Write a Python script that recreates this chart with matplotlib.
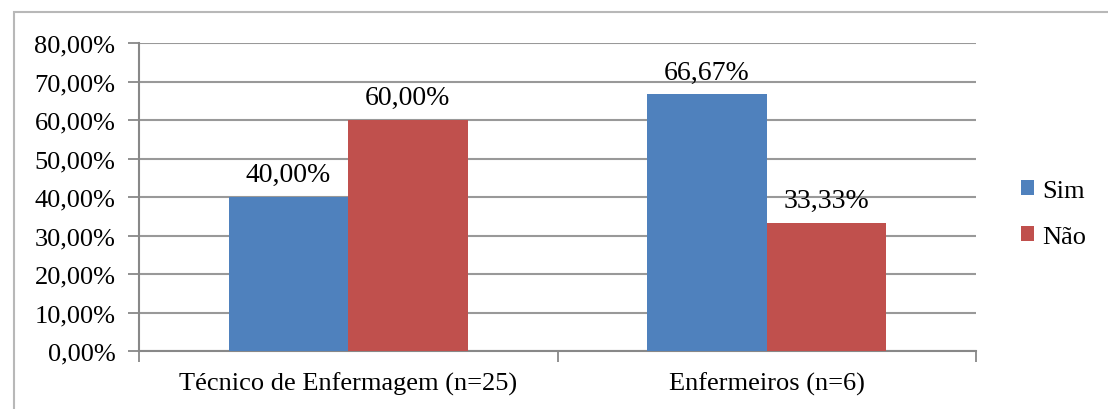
import matplotlib.pyplot as plt
from matplotlib.patches import Rectangle

categories = ["Técnico de Enfermagem (n=25)", "Enfermeiros (n=6)"]
sim = [40.00, 66.67]
nao = [60.00, 33.33]
yticks = [0, 10, 20, 30, 40, 50, 60, 70, 80]

plt.rcParams['font.family'] = 'serif'
plt.rcParams['font.serif'] = ['Liberation Serif', 'DejaVu Serif']
plt.rcParams['font.size'] = 19

fig = plt.figure(figsize=(11.08, 4.10), dpi=100)
# outer chart frame
fig.patches.append(Rectangle((14 / 1108, -0.1), 1.2, 1 - 13 / 410 + 0.1,
                             transform=fig.transFigure, fill=False,
                             edgecolor="#b8b8b8", linewidth=1.5))

ax = fig.add_axes([139 / 1108, 1 - 352 / 410, (976 - 139) / 1108, (352 - 44) / 410])

x = list(range(len(categories)))
w = 0.285
b1 = ax.bar([i - w / 2 for i in x], sim, w, color="#4F81BD", label="Sim", zorder=3)
b2 = ax.bar([i + w / 2 for i in x], nao, w, color="#C0504D", label="Não", zorder=3)

for bars, vals in ((b1, sim), (b2, nao)):
    for r, v in zip(bars, vals):
        ax.annotate(f"{v:.2f}%".replace(".", ","),
                    (r.get_x() + r.get_width() / 2, v),
                    xytext=(0, 7), textcoords="offset points",
                    ha="center", va="bottom", fontsize=20, zorder=4)

ax.set_xlim(-0.5, 1.5)
ax.set_ylim(0, 80)
ax.set_yticks(yticks)
ax.set_yticklabels([f"{t},00%" for t in yticks])
ax.set_xticks([-0.5, 0.5, 1.5])
ax.set_xticklabels([])
ax.set_xticks(x, minor=True)
ax.set_xticklabels(categories, minor=True)
ax.tick_params(axis="x", which="minor", length=0, pad=15)
ax.tick_params(axis="x", which="major", length=8, color="#888888", width=1.3)
ax.tick_params(axis="y", length=8, color="#888888", width=1.3, pad=9)

ax.grid(axis="y", color="#999999", linewidth=1.5, zorder=0)
for s in ("top", "right"):
    ax.spines[s].set_visible(False)
for s in ("left", "bottom"):
    ax.spines[s].set_color("#888888")
    ax.spines[s].set_linewidth(1.5)

ax.legend(loc="center left", bbox_to_anchor=(1.025, 0.445), frameon=False,
          handlelength=0.5, handleheight=0.5, handletextpad=0.3,
          labelspacing=0.9, fontsize=19)

fig.savefig("out.png", dpi=100)
